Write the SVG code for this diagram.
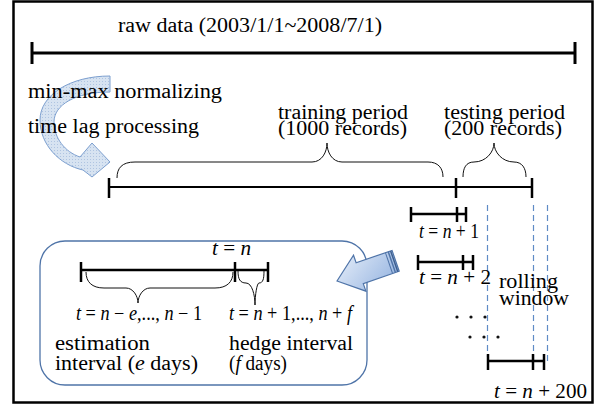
<svg xmlns="http://www.w3.org/2000/svg" width="596" height="411" viewBox="0 0 596 411" font-family="Liberation Serif, Times New Roman, serif">
<style>
.t{font-size:20px;fill:#000}
.i{font-style:italic}
.bar{stroke:#000;stroke-width:2.5;fill:none}
.tk{stroke:#000;stroke-width:2.5}
.br{stroke:#111;stroke-width:1;fill:none}
.dash{stroke:#5f8bc6;stroke-width:1.2;stroke-dasharray:6,4;fill:none}
</style>
<defs>
<linearGradient id="ag" x1="0" y1="0" x2="1" y2="1">
<stop offset="0" stop-color="#e6eef9"/>
<stop offset="1" stop-color="#94b3e0"/>
</linearGradient>
<pattern id="dots" width="3" height="3" patternUnits="userSpaceOnUse">
<rect width="3" height="3" fill="#d3e0f0"/>
<rect width="1" height="1" fill="#a6bede"/>
</pattern>
</defs>
<rect x="13.5" y="1.5" width="579" height="401" fill="#fff" stroke="#000" stroke-width="2.5"/>

<g id="raw">
<text class="t" x="118" y="32" textLength="264" lengthAdjust="spacingAndGlyphs">raw data (2003/1/1~2008/7/1)</text>
<line x1="32" y1="53" x2="575" y2="53" stroke="#000" stroke-width="3"/>
<line x1="32" y1="42" x2="32" y2="64" stroke="#000" stroke-width="3"/>
<line x1="575" y1="42" x2="575" y2="64" stroke="#000" stroke-width="3"/>
</g>

<g id="preprocess">
<path d="M110,76 C70,76 40,95 40,120 C40,145 60,165 83,170 L92,177 L110,162 L92,143 L80,157 C65,152 54,138 54,122 C54,105 75,92 110,92 Z" fill="url(#dots)" fill-opacity="0.9" stroke="#7c9fcf" stroke-width="1"/>
<text class="t" x="28" y="98" textLength="194" lengthAdjust="spacingAndGlyphs">min-max normalizing</text>
<text class="t" x="28" y="133" textLength="171" lengthAdjust="spacingAndGlyphs">time lag processing</text>
</g>

<g id="periods">
<line x1="109" y1="187" x2="532" y2="187" stroke="#000" stroke-width="2"/>
<line class="tk" x1="109" y1="178" x2="109" y2="198"/>
<line class="tk" x1="456" y1="178" x2="456" y2="198"/>
<line class="tk" x1="532" y1="178" x2="532" y2="198"/>
<path class="br" d="M117,178 C117,168 122,162 135,162 L312,162 C322,162 327,152 327,143 C327,152 332,162 342,162 L428,162 C438,162 443,168 443,177"/>
<path class="br" d="M463,177 C463,168 466,162 474,162 C486,162 494,152 494,143 C494,152 502,162 514,162 C522,162 526,168 526,177"/>
<text class="t" x="278" y="119" textLength="130" lengthAdjust="spacingAndGlyphs">training period</text>
<text class="t" x="278" y="135" textLength="129" lengthAdjust="spacingAndGlyphs">(1000 records)</text>
<text class="t" x="444" y="119" textLength="121" lengthAdjust="spacingAndGlyphs">testing period</text>
<text class="t" x="444" y="135" textLength="118" lengthAdjust="spacingAndGlyphs">(200 records)</text>
</g>

<g id="detail">
<rect x="40" y="241" width="327" height="144" rx="25" ry="25" fill="none" stroke="#4f74a8" stroke-width="1.3"/>
<text class="t" x="212" y="255" textLength="39" lengthAdjust="spacingAndGlyphs"><tspan class="i">t</tspan> = <tspan class="i">n</tspan></text>
<line class="bar" x1="81" y1="270" x2="268" y2="270"/>
<line class="tk" x1="81" y1="262" x2="81" y2="282"/>
<line class="tk" x1="235" y1="262" x2="235" y2="282"/>
<line class="tk" x1="268" y1="262" x2="268" y2="282"/>
<path class="br" d="M86,272 C86,282 92,288 104,288 L126,288 C133,288 138,296 138,303 C138,296 143,288 150,288 L215,288 C227,288 233,282 233,272"/>
<path class="br" d="M238,271 C238,279 240,283 246,283 C252,283 255,295 255,305 C255,295 257,283 259,283 C263,283 264,279 264,271"/>
<text class="t" x="76" y="320" textLength="126" lengthAdjust="spacingAndGlyphs"><tspan class="i">t</tspan> = <tspan class="i">n</tspan> − <tspan class="i">e</tspan>,..., <tspan class="i">n</tspan> − 1</text>
<text class="t" x="229" y="320" textLength="123" lengthAdjust="spacingAndGlyphs"><tspan class="i">t</tspan> = <tspan class="i">n</tspan> + 1,..., <tspan class="i">n</tspan> + <tspan class="i">f</tspan></text>
<text class="t" x="55" y="350" textLength="95" lengthAdjust="spacingAndGlyphs">estimation</text>
<text class="t" x="55" y="370" textLength="143" lengthAdjust="spacingAndGlyphs">interval (<tspan class="i">e</tspan> days)</text>
<text class="t" x="229" y="350" textLength="124" lengthAdjust="spacingAndGlyphs">hedge interval</text>
<text class="t" x="229" y="370" textLength="58" lengthAdjust="spacingAndGlyphs">(<tspan class="i">f</tspan> days)</text>
</g>

<g id="zoom-arrow" transform="translate(337,281) rotate(-19)">
<path d="M0,0 L24,-19 L24,-11 L62,-11 L62,11 L24,11 L24,19 Z" fill="url(#ag)" stroke="#4f74a8" stroke-width="1.2"/>
<line x1="55" y1="-11" x2="55" y2="11" stroke="#4f74a8" stroke-width="1"/>
<line x1="58" y1="-11" x2="58" y2="11" stroke="#4f74a8" stroke-width="1.5"/>
<line x1="60.5" y1="-11" x2="60.5" y2="11" stroke="#3d5f90" stroke-width="1.5"/>
</g>

<g id="rolling">
<line class="dash" x1="487.5" y1="205" x2="487.5" y2="357"/>
<line class="dash" x1="533.5" y1="205" x2="533.5" y2="365"/>
<line class="dash" x1="547.5" y1="205" x2="547.5" y2="365"/>
<line class="bar" x1="411" y1="214" x2="466" y2="214"/>
<line class="tk" x1="411" y1="207" x2="411" y2="222"/>
<line class="tk" x1="457" y1="207" x2="457" y2="222"/>
<line class="tk" x1="466" y1="207" x2="466" y2="222"/>
<text class="t" x="419" y="238" textLength="60" lengthAdjust="spacingAndGlyphs"><tspan class="i">t</tspan> = <tspan class="i">n</tspan> + 1</text>
<line class="bar" x1="418" y1="262" x2="473" y2="262"/>
<line class="tk" x1="418" y1="255" x2="418" y2="270"/>
<line class="tk" x1="463" y1="255" x2="463" y2="270"/>
<line class="tk" x1="473" y1="255" x2="473" y2="270"/>
<text class="t" x="419" y="284" textLength="72" lengthAdjust="spacingAndGlyphs"><tspan class="i">t</tspan> = <tspan class="i">n</tspan> + 2</text>
<text class="t" x="499" y="288" textLength="59" lengthAdjust="spacingAndGlyphs">rolling</text>
<text class="t" x="499" y="305" textLength="70" lengthAdjust="spacingAndGlyphs">window</text>
<g fill="#111">
<circle cx="457" cy="317" r="1.6"/><circle cx="471" cy="317" r="1.6"/><circle cx="485" cy="317" r="1.6"/>
<circle cx="470" cy="337" r="1.6"/><circle cx="484" cy="337" r="1.6"/><circle cx="498" cy="337" r="1.6"/>
</g>
<line class="bar" x1="488" y1="361" x2="544" y2="361"/>
<line class="tk" x1="488" y1="354" x2="488" y2="370"/>
<line class="tk" x1="533" y1="354" x2="533" y2="370"/>
<line class="tk" x1="544" y1="354" x2="544" y2="370"/>
<text class="t" x="494" y="398" textLength="93" lengthAdjust="spacingAndGlyphs"><tspan class="i">t</tspan> = <tspan class="i">n</tspan> + 200</text>
</g>
</svg>
